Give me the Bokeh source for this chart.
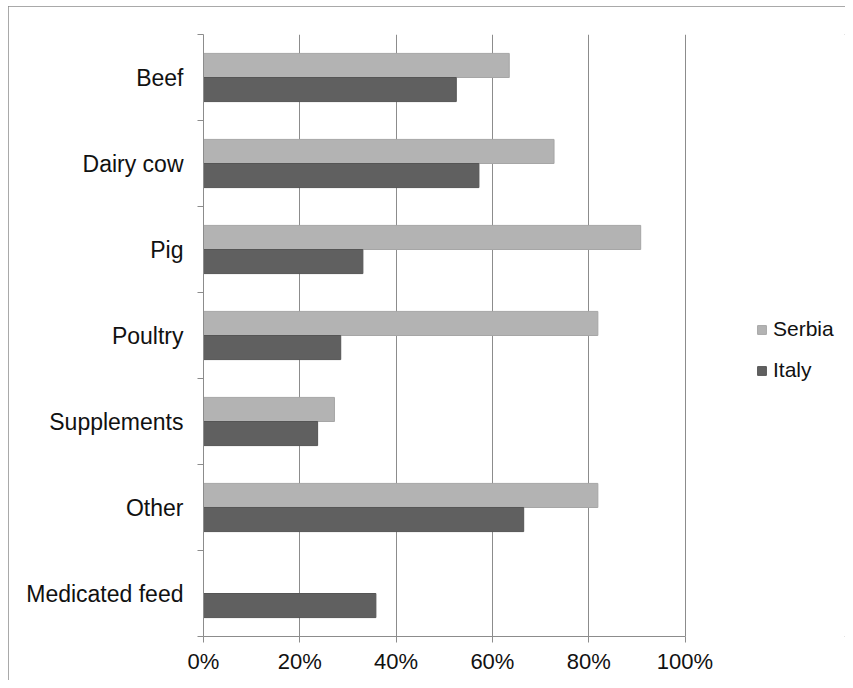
from bokeh.plotting import figure
from bokeh.models import (Range1d, FixedTicker, PrintfTickFormatter, Legend,
                          LegendItem, ColumnDataSource)
from bokeh.embed import file_html
from bokeh.resources import INLINE

categories = ["Beef", "Dairy cow", "Pig", "Poultry", "Supplements", "Other", "Medicated feed"]
serbia = [63.5, 72.8, 90.8, 81.9, 27.2, 81.9, 0.0]
italy = [52.5, 57.2, 33.1, 28.5, 23.7, 66.5, 35.8]
x_ticks = [0, 20, 40, 60, 80, 100]

n = len(categories)
centers = [n - 0.5 - i for i in range(n)]
bar_h = 0.28

FONT = "Liberation Sans"
AXIS_GRAY = "#8c8c8c"

# layout: the frame spans to the right edge so the legend is drawn inside it;
# the value axis covers only the first 481.5 px of the 642 px wide frame
FIG_W, FIG_H = 837, 674
LEFT = 195
AXIS_PX = 481.5
FRAME_PX = FIG_W - LEFT
x_end = 100 * FRAME_PX / AXIS_PX

p = figure(width=FIG_W, height=FIG_H, output_backend="svg", toolbar_location=None,
           x_range=Range1d(0, x_end), y_range=Range1d(0, n),
           min_border_left=LEFT, min_border_right=0, min_border_top=28,
           min_border_bottom=44)
p.margin = (6, 0, 0, 8)
p.styles = {"outline": "1px solid #8c8c8c", "outline-offset": "-1px"}
p.outline_line_color = None
p.background_fill_color = "white"
p.border_fill_color = "white"

src_s = ColumnDataSource(dict(y=[c + bar_h / 2 for c in centers], right=serbia))
src_i = ColumnDataSource(dict(y=[c - bar_h / 2 for c in centers], right=italy))
rs = p.hbar(y="y", right="right", left=0, height=bar_h, source=src_s,
            fill_color="#b3b3b3", line_color="#a6a6a6", line_width=1)
ri = p.hbar(y="y", right="right", left=0, height=bar_h, source=src_i,
            fill_color="#606060", line_color="#555555", line_width=1)

# x axis
p.xaxis.bounds = (0, 100)
p.xaxis.ticker = FixedTicker(ticks=x_ticks)
p.xaxis.formatter = PrintfTickFormatter(format="%d%%")
p.xaxis.axis_line_color = AXIS_GRAY
p.xaxis.major_tick_line_color = AXIS_GRAY
p.xaxis.major_tick_out = 6
p.xaxis.major_tick_in = 0
p.xaxis.minor_tick_line_color = None
p.xaxis.major_label_standoff = 6
p.xaxis.major_label_text_font = FONT
p.xaxis.major_label_text_font_size = "22px"
p.xaxis.major_label_text_color = "#111111"

# y axis: labels at category centres, ticks at category boundaries
p.yaxis.ticker = FixedTicker(ticks=centers, minor_ticks=list(range(n + 1)))
p.yaxis.major_label_overrides = {c: lab for c, lab in zip(centers, categories)}
p.yaxis.axis_line_color = AXIS_GRAY
p.yaxis.major_tick_line_color = None
p.yaxis.major_tick_out = 0
p.yaxis.major_tick_in = 0
p.yaxis.minor_tick_line_color = AXIS_GRAY
p.yaxis.minor_tick_out = 6
p.yaxis.minor_tick_in = 0
p.yaxis.major_label_standoff = 14
p.yaxis.major_label_text_font = FONT
p.yaxis.major_label_text_font_size = "23px"
p.yaxis.major_label_text_color = "#111111"

p.xgrid.ticker = FixedTicker(ticks=x_ticks[1:])
p.xgrid.grid_line_color = AXIS_GRAY
p.ygrid.grid_line_color = None

legend = Legend(items=[LegendItem(label="Serbia", renderers=[rs]),
                       LegendItem(label="Italy", renderers=[ri])],
                location=(553, 254), orientation="vertical",
                padding=0, margin=0, spacing=17,
                glyph_width=11, glyph_height=11, label_height=22,
                label_standoff=6,
                label_text_font=FONT, label_text_font_size="21px",
                label_text_color="#111111",
                border_line_color=None, background_fill_alpha=0)
p.add_layout(legend, "center")

open("out.html", "w").write(file_html(p, INLINE))
